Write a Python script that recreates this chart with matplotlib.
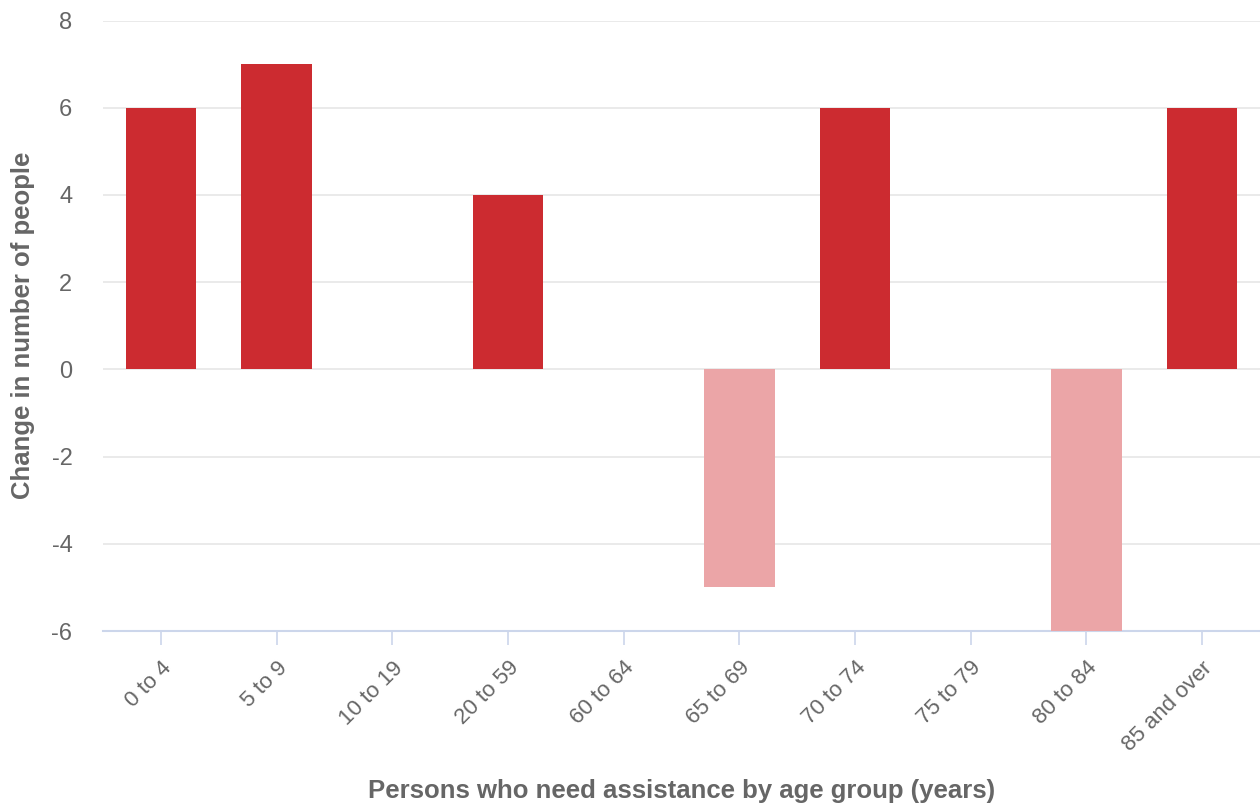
import numpy as np
import matplotlib.pyplot as plt

# chart data
age_groups = ['0 to 4', '5 to 9', '10 to 19', '20 to 59', '60 to 64',
              '65 to 69', '70 to 74', '75 to 79', '80 to 84', '85 and over']
change = [6, 7, 0, 4, 0, -5, 6, 0, -6, 6]
y_ticks = [-6, -4, -2, 0, 2, 4, 6, 8]

plt.rcParams['font.family'] = ['Liberation Sans', 'DejaVu Sans']

def draw():
    fig = plt.figure(figsize=(12.6, 8.05), dpi=100)
    ax = fig.add_axes([0.0817, 0.2161, 0.9183, 0.7584])

    x = np.arange(len(age_groups))
    colors = ['#cc2b30' if v >= 0 else '#eba5a7' for v in change]
    ax.bar(x, change, width=0.61, color=colors, zorder=3)

    ax.set_xlim(-0.5, len(age_groups) - 0.5)
    ax.set_ylim(-6, 8)
    ax.set_yticks(y_ticks)
    ax.set_yticklabels([str(v) for v in y_ticks])
    ax.grid(axis='y', color='#e6e6e6', linewidth=1.2, zorder=0)
    ax.set_axisbelow(True)

    for s in ['top', 'right', 'left']:
        ax.spines[s].set_visible(False)
    ax.spines['bottom'].set_color('#ccd6eb')
    ax.spines['bottom'].set_linewidth(1.5)

    ax.set_xticks(x)
    ax.set_xticklabels(age_groups, rotation=45, ha='right', rotation_mode='anchor')
    ax.tick_params(axis='x', colors='#ccd6eb', length=10, width=1.2,
                   labelcolor='#666666', labelsize=16, pad=9)
    ax.tick_params(axis='y', length=0, labelcolor='#666666', labelsize=17, pad=22)

    ax.set_xlabel('Persons who need assistance by age group (years)',
                  fontsize=18.5, fontweight='bold', color='#666666', labelpad=17)
    ax.set_ylabel('Change in number of people',
                  fontsize=18.5, fontweight='bold', color='#666666', labelpad=12)

    fig.savefig('out.png', dpi=100)

if __name__ == "__main__":
    draw()
